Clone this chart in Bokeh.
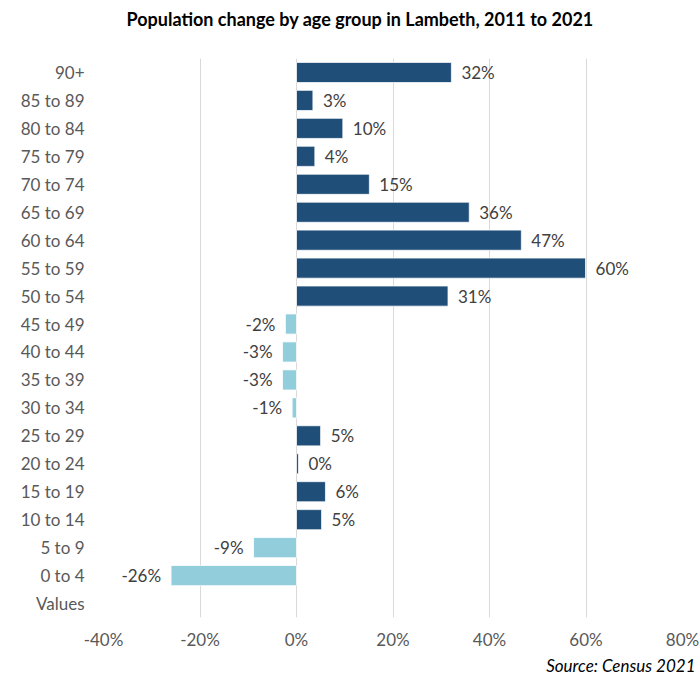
from bokeh.plotting import figure
from bokeh.models import ColumnDataSource, Title, FactorRange, Range1d, FixedTicker
from bokeh.core.properties import value
from bokeh.embed import file_html
from bokeh.resources import INLINE

# ---- data ----
age_groups = ["0 to 4", "5 to 9", "10 to 14", "15 to 19", "20 to 24", "25 to 29",
              "30 to 34", "35 to 39", "40 to 44", "45 to 49", "50 to 54", "55 to 59",
              "60 to 64", "65 to 69", "70 to 74", "75 to 79", "80 to 84", "85 to 89", "90+"]
change_pct = [-26.0, -8.9, 5.2, 6.0, 0.4, 5.0, -0.9, -2.9, -2.9, -2.3, 31.4, 59.9,
              46.6, 35.8, 15.1, 3.8, 9.6, 3.4, 32.1]
empty_category = "Values"
x_ticks = [-40, -20, 0, 20, 40, 60, 80]
x_tick_labels = ["-40%", "-20%", "0%", "20%", "40%", "60%", "80%"]

POS = "#1F4E79"
NEG = "#92CDDC"
FONT = "Lato"
TXT = "#595959"

colors = [POS if v >= 0 else NEG for v in change_pct]
labels = [f"{round(v)}%" for v in change_pct]
aligns = ["left" if v >= 0 else "right" for v in change_pct]
offsets = [10 if v >= 0 else -10 for v in change_pct]

src = ColumnDataSource(dict(y=age_groups, x=change_pct, color=colors, label=labels,
                            align=aligns, off=offsets))

p = figure(width=699, height=684, output_backend="svg", toolbar_location=None,
           y_range=FactorRange(factors=[empty_category] + age_groups, range_padding=0),
           x_range=Range1d(-40, 80),
           min_border_left=103, min_border_right=17, min_border_top=58, min_border_bottom=67)

p.hbar(y="y", right="x", left=0, height=0.72, color="color", line_color="white",
       line_width=0.75, source=src)
p.text(x="x", y="y", text="label", text_align="align", x_offset="off",
       text_baseline="middle", text_font=value(FONT), text_font_size="17px",
       text_color="#404040", source=src)

# spacer between title and plot area
p.add_layout(Title(text=" ", text_font_size="1px", standoff=26), "above")

p.title.text = "Population change by age group in Lambeth, 2011 to 2021"
p.title.align = "left"
p.title.offset = 23
p.title.standoff = 0
p.title.text_font = FONT
p.title.text_font_size = "18px"
p.title.text_font_style = "bold"
p.title.text_color = "#000000"

p.add_layout(Title(text="Source: Census 2021", align="right", offset=-13, standoff=1,
                   text_font=FONT, text_font_size="17px", text_font_style="italic",
                   text_color="#000000"),
             "below")

p.outline_line_color = None
p.ygrid.grid_line_color = None
p.xgrid.ticker = FixedTicker(ticks=x_ticks)
p.xgrid.grid_line_color = "#D9D9D9"
p.xaxis.ticker = FixedTicker(ticks=x_ticks)
p.xaxis.major_label_overrides = dict(zip(x_ticks, x_tick_labels))

for ax in (p.xaxis, p.yaxis):
    ax.axis_line_color = None
    ax.major_tick_line_color = None
    ax.minor_tick_line_color = None
    ax.major_tick_out = 0
    ax.major_tick_in = 0
    ax.major_label_text_font = FONT
    ax.major_label_text_font_size = "17px"
    ax.major_label_text_color = TXT
p.xaxis.major_label_standoff = 11
p.yaxis.major_label_standoff = 19

open("out.html", "w").write(file_html(p, INLINE))
